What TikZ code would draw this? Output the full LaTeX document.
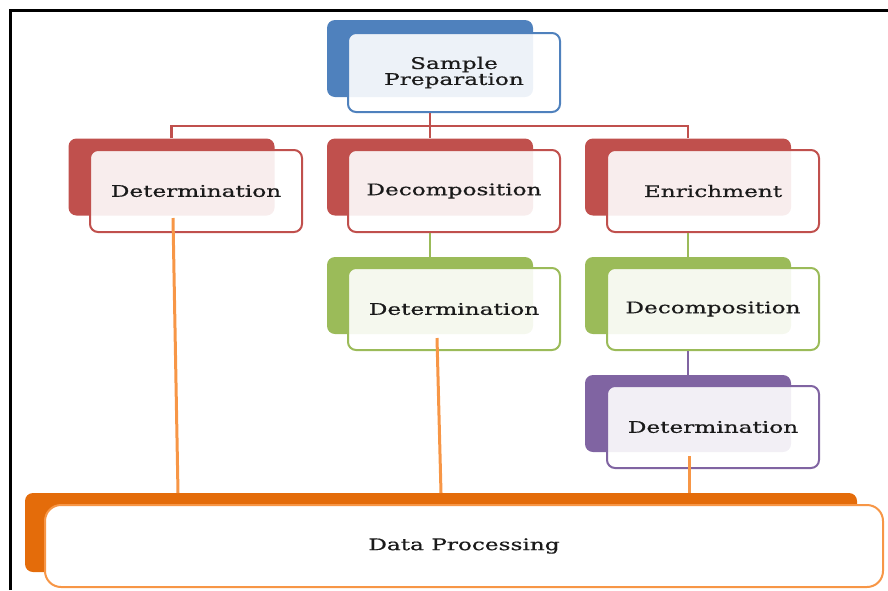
\documentclass[tikz,border=0pt]{standalone}
\usepackage{fontspec}
\newfontfamily\lblfont[FakeStretch=1.45,FakeBold=0.6]{DejaVu Serif}
\definecolor{cblue}{HTML}{4F81BD}
\definecolor{cred}{HTML}{C0504D}
\definecolor{cgreen}{HTML}{9BBB59}
\definecolor{cpurple}{HTML}{8064A2}
\definecolor{corange}{HTML}{E46C0A}
\definecolor{clorange}{HTML}{F79646}
\definecolor{ctext}{HTML}{1A1A1A}
\begin{document}
\begin{tikzpicture}[x=1pt,y=-1pt,
  backbox/.style={draw=none,fill=#1,rounded corners=8pt,minimum width=206pt,minimum height=77pt,inner sep=0pt},
  frontbox/.style={draw=#1,line width=2pt,fill=white,fill opacity=0.9,text opacity=1,rounded corners=8pt,minimum width=212pt,minimum height=80pt,inner sep=0pt,align=center,font=\lblfont\fontsize{16}{16}\selectfont,text=ctext},
  link/.style={draw=#1,line width=2.5pt},
  oline/.style={draw=clorange,line width=3pt}]
\useasboundingbox (0,0) rectangle (888,590);
\draw[line width=3pt,black] (10,590) -- (10,10) -- (888,10);
% back boxes
\node[backbox=cblue] (spb) at (430,58.5) {};
\node[backbox=cred] (b1) at (171.5,177) {};
\node[backbox=cred] (b2) at (430,177) {};
\node[backbox=cred] (b3) at (688,177) {};
\node[backbox=cgreen] (b5) at (430,295.5) {};
\node[backbox=cgreen] (b6) at (688,295.5) {};
\node[backbox=cpurple] (b7) at (688,413.5) {};
\node[draw=none,fill=corange,rounded corners=8pt,minimum width=832pt,minimum height=79pt,inner sep=0pt] (dpb) at (441,532.5) {};
% front boxes
\node[frontbox=cblue,minimum height=79pt] (sp) at (454,72.5) {Sample\\Preparation};
\node[frontbox=cred,minimum height=82pt] (f1) at (196,191) {Determination};
\node[frontbox=cred,minimum height=82pt] (f2) at (454,191) {Decomposition};
\node[frontbox=cred,minimum height=82pt] (f3) at (713,191) {Enrichment};
\node[frontbox=cgreen,minimum height=82pt] (f5) at (454,309) {Determination};
\node[frontbox=cgreen,minimum height=82pt] (f6) at (713,309) {Decomposition};
\node[frontbox=cpurple,minimum height=82pt] (f7) at (713,427) {Determination};
% connectors
\coordinate (j) at (430,126);
\draw[link=cred] (spb |- sp.south) -- (j);
\draw[link=cred] (b1.north) |- (j) -| (b3.north);
\draw[link=cred] (j) -- (b2.north);
\draw[link=cgreen] (b2 |- f2.south) -- (b5.north);
\draw[link=cgreen] (b3 |- f3.south) -- (b6.north);
\draw[link=cpurple] (b6 |- f6.south) -- (b7.north);
% orange lines to data processing
\coordinate (o1) at (178,493);
\coordinate (o2) at (441,493);
\coordinate (o3) at (689,493);
\draw[oline] (f1.south) ++(-23,-15) -- (o1);
\draw[oline] (f5.south) ++(-17,-13) -- (o2);
\draw[oline] (f7.south) ++(-24,-13) -- (o3);
% data processing front box
\node[draw=clorange,line width=2pt,fill=white,rounded corners=16pt,minimum width=838pt,minimum height=82pt,inner sep=0pt,font=\lblfont\fontsize{16}{16}\selectfont,text=ctext] (dp) at (464,546) {Data Processing};
\end{tikzpicture}
\end{document}
